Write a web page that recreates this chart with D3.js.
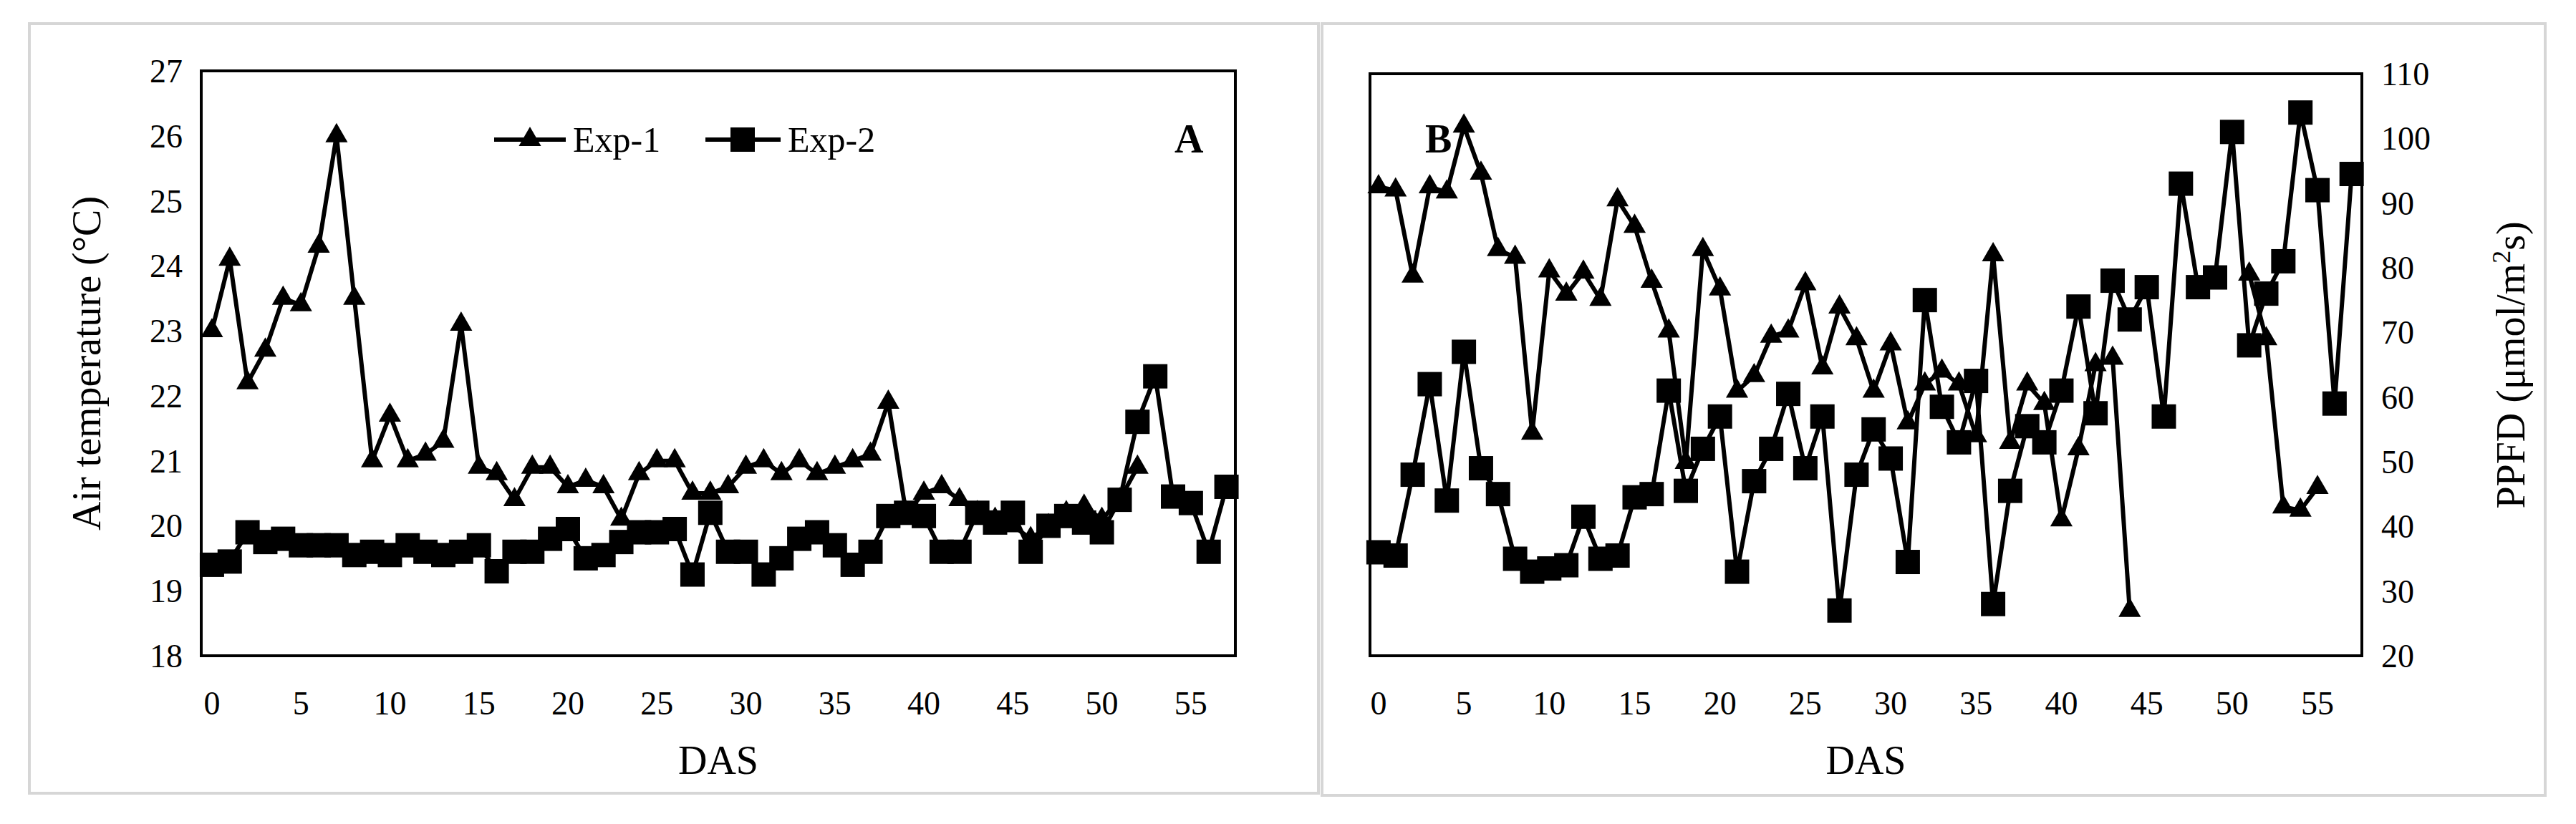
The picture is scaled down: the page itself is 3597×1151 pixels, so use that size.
<!DOCTYPE html>
<html><head><meta charset="utf-8">
<script src="https://cdn.jsdelivr.net/npm/d3@7"></script>
<style>body{margin:0;background:#fff}text{font-family:"Liberation Serif","DejaVu Serif",serif}</style>
</head><body><svg id="c" width="3597" height="1151"></svg>
<script>
// Panel A: air temperature
const tempExp1 = [23.0,24.1,22.2,22.7,23.5,23.4,24.3,26.0,23.5,21.0,21.7,21.0,21.1,21.3,23.1,20.9,20.8,20.4,20.9,20.9,20.6,20.7,20.6,20.1,20.8,21.0,21.0,20.5,20.5,20.6,20.9,21.0,20.8,21.0,20.8,20.9,21.0,21.1,21.9,20.2,20.5,20.6,20.4,20.2,20.1,20.0,19.8,20.0,20.2,20.3,20.1,20.4,20.9];
const tempExp2 = [19.4,19.45,19.9,19.75,19.8,19.7,19.7,19.7,19.55,19.6,19.55,19.7,19.6,19.55,19.6,19.7,19.3,19.6,19.6,19.8,19.95,19.5,19.55,19.75,19.9,19.9,19.95,19.25,20.2,19.6,19.6,19.25,19.5,19.8,19.9,19.7,19.4,19.6,20.15,20.2,20.15,19.6,19.6,20.2,20.05,20.2,19.6,20.0,20.15,20.05,19.9,20.4,21.6,22.3,20.45,20.35,19.6,20.6];
// Panel B: PPFD (null = no value)
const ppfdExp1 = [92.5,92,78.7,92.5,91.7,101.9,94.6,82.8,81.6,54.4,79.5,75.9,79.3,75.1,90.5,86.4,77.9,70.2,49.9,82.8,76.7,60.9,63.3,69.4,70.2,77.5,64.5,73.9,69,60.9,68.2,56,62,64,62,54,82,53,62,59,41,52,65,66,27,null,null,null,null,null,null,79,69,43,42.5,46];
const ppfdExp2 = [36,35.5,48,62,44,67,49,45,35,33,33.5,34,41.5,35,35.5,44.5,45,61,45.5,52,57,33,47,52,60.5,49,57,27,48,55,50.5,34.5,75,58.5,53,62.5,28,45.5,55.5,53,61,74,57.5,78,72,77,57,93,77,78.5,101,68,76,81,104,92,59,94.5];
const xTicks = [0,5,10,15,20,25,30,35,40,45,50,55];
const tempTicks = [18,19,20,21,22,23,24,25,26,27];
const ppfdTicks = [20,30,40,50,60,70,80,90,100,110];

const svg = d3.select('#c');

// outer panel frames
svg.append('rect').attr('x',41).attr('y',33).attr('width',1800).attr('height',1075)
  .attr('fill','none').attr('stroke','#d6d6d6').attr('stroke-width',4);
svg.append('rect').attr('x',1846).attr('y',33).attr('width',1708).attr('height',1078)
  .attr('fill','none').attr('stroke','#d6d6d6').attr('stroke-width',4);

function tri(g, x, y) {
  g.append('path').attr('d', d3.symbol(d3.symbolTriangle, 420)())
    .attr('transform', `translate(${x},${y})`).attr('fill','#000');
}
function sq(g, x, y) {
  g.append('rect').attr('x', x-17).attr('y', y-17).attr('width',34).attr('height',34).attr('fill','#000');
}

function panel(opt) {
  const g = svg.append('g');
  const x = d3.scaleLinear().domain(opt.xdom).range([opt.l, opt.r]);
  const y = d3.scaleLinear().domain(opt.ydom).range([opt.b, opt.t]);
  const line = d3.line().defined(d => d != null).x((d,i) => x(i)).y(d => y(d));
  [opt.s1, opt.s2].forEach(s => {
    g.append('path').datum(s).attr('d', line).attr('fill','none')
      .attr('stroke','#000').attr('stroke-width',6).attr('stroke-linejoin','round');
  });
  opt.s2.forEach((d,i) => { if (d != null) sq(g, x(i), y(d)); });
  opt.s1.forEach((d,i) => { if (d != null) tri(g, x(i), y(d)); });
  g.append('rect').attr('x',opt.l).attr('y',opt.t).attr('width',opt.r-opt.l).attr('height',opt.b-opt.t)
    .attr('fill','none').attr('stroke','#000').attr('stroke-width',4);
  // x tick labels
  g.selectAll('.xt').data(xTicks).enter().append('text')
    .attr('x', d => x(d)).attr('y', opt.b + 82).attr('text-anchor','middle')
    .attr('font-size',46).text(d => d);
  g.append('text').attr('x', (opt.l+opt.r)/2).attr('y', opt.b + 165).attr('text-anchor','middle')
    .attr('font-size',56).text('DAS');
  // y tick labels
  g.selectAll('.yt').data(opt.yticks).enter().append('text')
    .attr('x', opt.ylabX).attr('y', d => y(d) + 16).attr('text-anchor', opt.yanchor)
    .attr('font-size',46).text(d => d);
  g.append('text').attr('transform', `translate(${opt.titleX},${(opt.t+opt.b)/2}) rotate(-90)`)
    .attr('text-anchor','middle').attr('font-size',56).text(opt.title);
  return {g, x, y};
}

const A = panel({xdom:[-0.6,57.5], ydom:[18,27], l:281, r:1725, t:99, b:916,
  s1: tempExp1, s2: tempExp2, yticks: tempTicks, ylabX: 255, yanchor:'end',
  titleX: 140, title: 'Air temperature (°C)'});
const B = panel({xdom:[-0.5,57.6], ydom:[20,110], l:1913, r:3298, t:103, b:916,
  s1: ppfdExp1, s2: ppfdExp2, yticks: ppfdTicks, ylabX: 3325, yanchor:'start',
  titleX: 3525, title: ''});
B.g.select('text:last-child').remove();
svg.append('text').attr('transform', `translate(3525,510) rotate(-90)`).attr('text-anchor','middle')
  .attr('font-size',56).html('PPFD (μmol/m<tspan baseline-shift="super" font-size="36">2</tspan>s)');

// legend
const lg = svg.append('g');
lg.append('line').attr('x1',690).attr('x2',790).attr('y1',195).attr('y2',195).attr('stroke','#000').attr('stroke-width',6);
tri(lg, 740, 195);
lg.append('text').attr('x',800).attr('y',212).attr('font-size',50).text('Exp-1');
lg.append('line').attr('x1',985).attr('x2',1090).attr('y1',195).attr('y2',195).attr('stroke','#000').attr('stroke-width',6);
sq(lg, 1037, 195);
lg.append('text').attr('x',1100).attr('y',212).attr('font-size',50).text('Exp-2');

svg.append('text').attr('x',1640).attr('y',213).attr('font-size',56).attr('font-weight','bold').text('A');
svg.append('text').attr('x',1990).attr('y',213).attr('font-size',56).attr('font-weight','bold').text('B');
</script></body></html>
